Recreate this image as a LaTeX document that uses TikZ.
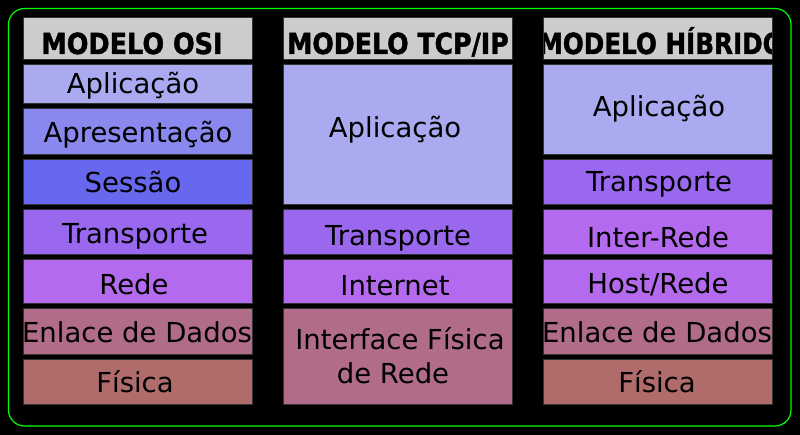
\documentclass[tikz,border=0pt]{standalone}
\usepackage{fontspec}
\setmainfont{DejaVu Sans}
\newfontfamily\headfont{DejaVu Sans Bold}[FakeBold=1.6]
\definecolor{frame}{HTML}{00FF00}
\definecolor{hdr}{HTML}{CCCCCC}
\definecolor{capl}{HTML}{AAAAF0}
\definecolor{capr}{HTML}{8888EE}
\definecolor{cses}{HTML}{6868EE}
\definecolor{ctra}{HTML}{9A68EE}
\definecolor{cred}{HTML}{B46AEE}
\definecolor{cenl}{HTML}{B06C88}
\definecolor{cfis}{HTML}{B06C6A}
\definecolor{edge}{HTML}{333333}
\tikzset{
  lay/.style={draw=edge, line width=1pt, inner sep=0pt, outer sep=0pt},
  txt/.style={font=\fontsize{27.5}{34}\selectfont, anchor=base, inner sep=0pt, text=black, align=center},
  htxt/.style={font=\headfont\fontsize{29}{30}\selectfont, anchor=base, inner sep=0pt, text=black},
}
% name, x1, y1, x2, y2, colour
\newcommand{\lyr}[6]{\node[lay, fill=#6, anchor=north west, minimum width={#4pt-#2pt}, minimum height={#5pt-#3pt}] (#1) at (#2,#3) {};}
\begin{document}
\begin{tikzpicture}[x=1pt, y=-1pt]
\fill[black] (0,0) rectangle (800,435);
\draw[frame, line width=1.2pt, rounded corners=16pt] (8.5,8.5) rectangle (791,426);
% OSI
\lyr{oh}{23}{18}{252}{60}{hdr}
\lyr{o1}{23}{65}{252}{104}{capl}
\lyr{o2}{23}{109}{252}{155}{capr}
\lyr{o3}{23}{160}{252}{205}{cses}
\lyr{o4}{23}{210}{252}{255}{ctra}
\lyr{o5}{23}{260}{252}{304}{cred}
\lyr{o6}{23}{309}{252}{354}{cenl}
\lyr{o7}{23}{359}{252}{404}{cfis}
\node[htxt] (ohT) at (132,54) {\scalebox{0.88}[1]{MODELO OSI}};
\node[txt] (o1T) at (133,94) {Aplicação};
\node[txt] (o2T) at (138,143) {Apresentação};
\node[txt] (o3T) at (133,193) {Sessão};
\node[txt] (o4T) at (135,244) {Transporte};
\node[txt] (o5T) at (134,295) {Rede};
\node[txt] (o6T) at (137,343) {Enlace de Dados};
\node[txt] (o7T) at (135,392) {Física};
% TCP/IP
\lyr{th}{283}{18}{512}{60}{hdr}
\lyr{t1}{283}{65}{512}{205}{capl}
\lyr{t2}{283}{210}{512}{255}{ctra}
\lyr{t3}{283}{260}{512}{304}{cred}
\lyr{t4}{283}{309}{512}{404}{cenl}
\node[htxt] (thT) at (398,54) {\scalebox{0.87}[1]{MODELO TCP/IP}};
\node[txt] (t1T) at (395,138) {Aplicação};
\node[txt] (t2T) at (398,246) {Transporte};
\node[txt] (t3T) at (395,296) {Internet};
\node[txt] (t4T) at (400,349) {Interface Física};
\node[txt] (t4U) at (393,383) {de Rede};
% Hybrid
\lyr{hh}{543}{18}{772}{60}{hdr}
\lyr{h1}{543}{65}{772}{155}{capl}
\lyr{h2}{543}{160}{772}{205}{ctra}
\lyr{h3}{543}{210}{772}{255}{cred}
\lyr{h4}{543}{260}{772}{304}{cred}
\lyr{h5}{543}{309}{772}{354}{cenl}
\lyr{h6}{543}{359}{772}{404}{cfis}
\begin{scope}
\clip (543,18) rectangle (772,60);
\node[htxt] (hhT) at (661,54) {\scalebox{0.85}[1]{MODELO HÍBRIDO}};
\end{scope}
\draw[edge, line width=1pt] (hh.north west) rectangle (hh.south east);
\node[txt] (h1T) at (659,117) {Aplicação};
\node[txt] (h2T) at (659,192) {Transporte};
\node[txt] (h3T) at (658,248) {Inter-Rede};
\node[txt] (h4T) at (658,294) {Host/Rede};
\node[txt] (h5T) at (657,343) {Enlace de Dados};
\node[txt] (h6T) at (657,392) {Física};
\end{tikzpicture}
\end{document}
